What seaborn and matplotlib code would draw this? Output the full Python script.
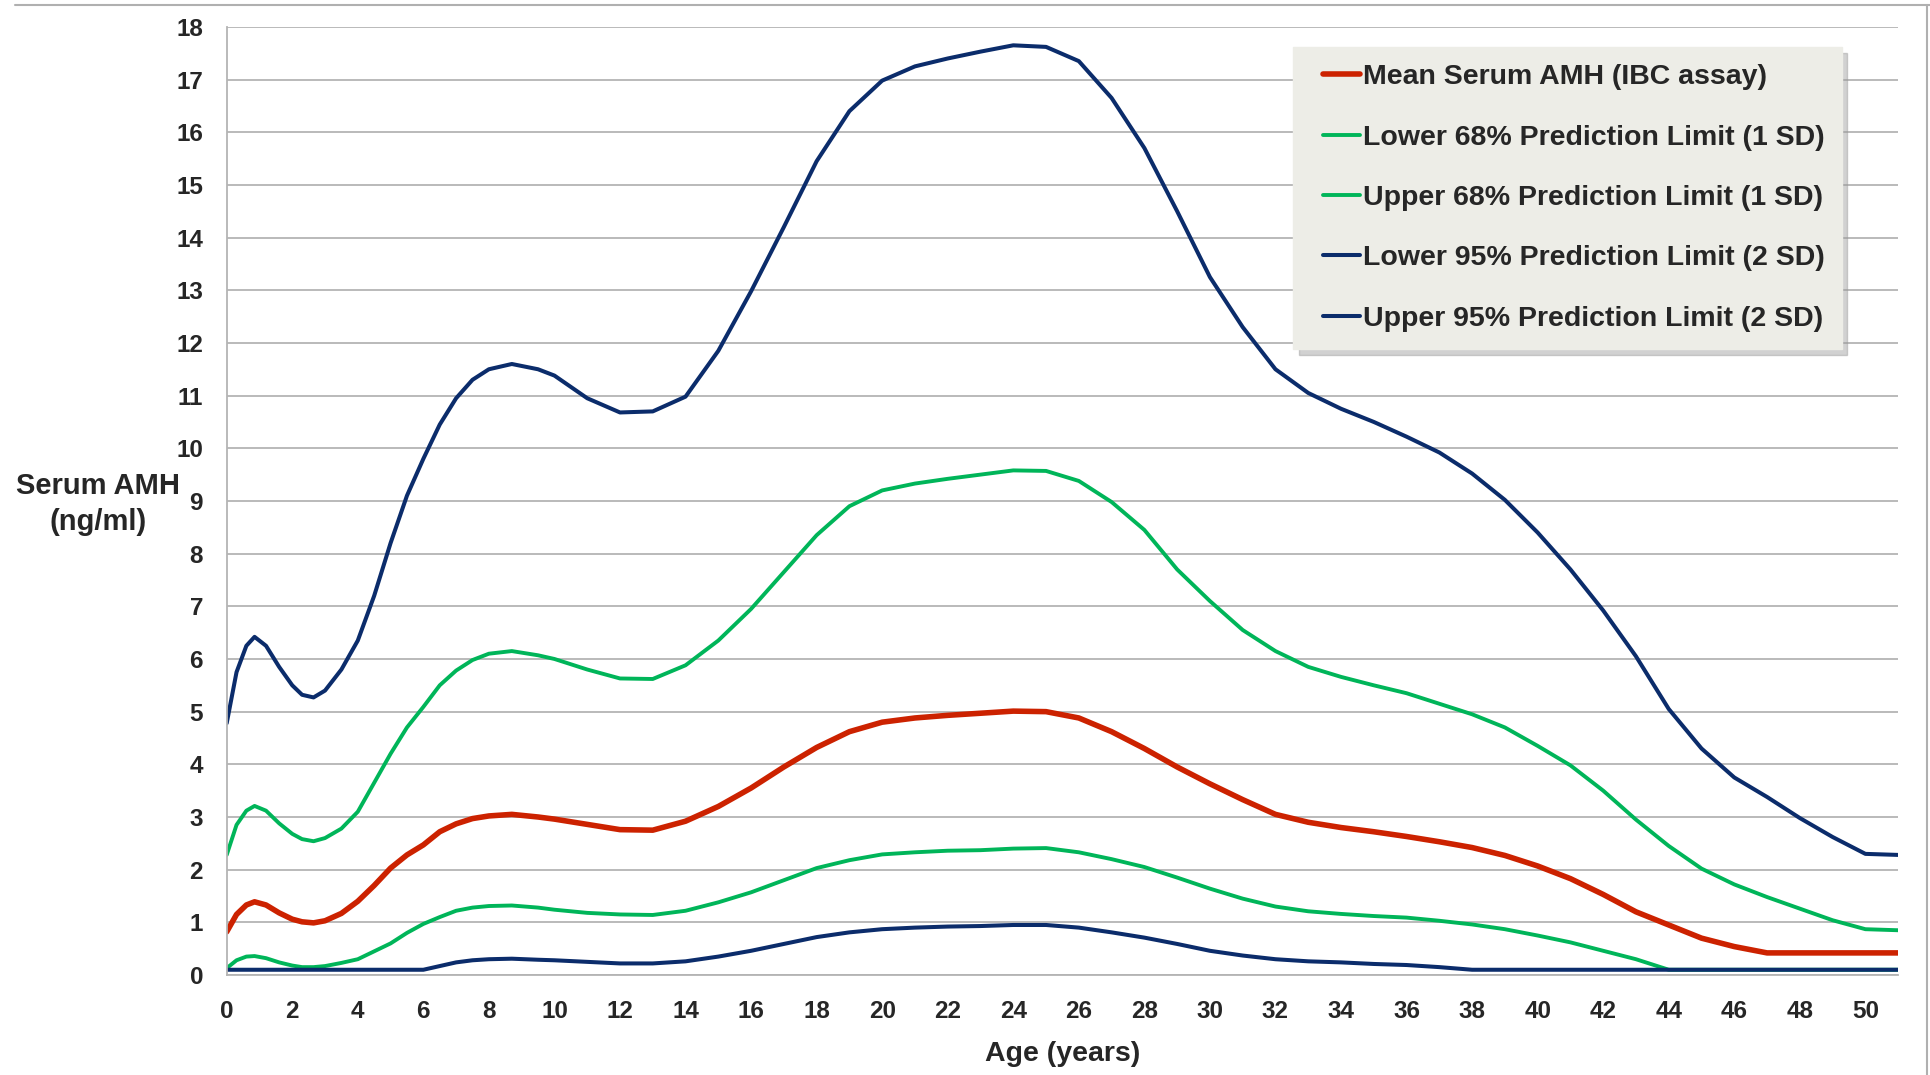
import numpy as np
import pandas as pd
import matplotlib
matplotlib.use("Agg")
import matplotlib.pyplot as plt
from matplotlib.lines import Line2D
from matplotlib.legend_handler import HandlerLine2D
import seaborn as sns

# ages (years) - denser at the start where the curves wiggle
ages = [0, 0.3, 0.6, 0.85, 1.2, 1.6, 2.0, 2.3, 2.65, 3.0, 3.5, 4.0, 4.5, 5.0, 5.5,
        6.0, 6.5, 7.0, 7.5, 8.0, 8.7, 9.5] + list(range(10, 52))

mean_amh = [0.82, 1.15, 1.33, 1.39, 1.33, 1.18, 1.06, 1.01, 0.99, 1.03, 1.17, 1.40, 1.70, 2.03, 2.28,
            2.47, 2.72, 2.87, 2.97, 3.02, 3.05, 3.00,
            2.96, 2.86, 2.76, 2.75, 2.92, 3.20, 3.55, 3.95, 4.32, 4.62,
            4.80, 4.88, 4.93, 4.97, 5.01, 5.00, 4.88, 4.62, 4.30, 3.95,
            3.63, 3.33, 3.05, 2.90, 2.80, 2.72, 2.63, 2.53, 2.42, 2.27,
            2.07, 1.83, 1.53, 1.20, 0.95, 0.70, 0.54, 0.42, 0.42, 0.42,
            0.42, 0.42]

lower_68 = [0.13, 0.28, 0.35, 0.36, 0.32, 0.24, 0.18, 0.15, 0.15, 0.17, 0.23, 0.30, 0.45, 0.60, 0.80,
            0.97, 1.10, 1.22, 1.28, 1.31, 1.32, 1.28,
            1.24, 1.18, 1.15, 1.14, 1.22, 1.38, 1.57, 1.80, 2.03, 2.18,
            2.29, 2.33, 2.36, 2.37, 2.40, 2.41, 2.33, 2.20, 2.05, 1.85,
            1.64, 1.45, 1.30, 1.21, 1.16, 1.12, 1.09, 1.03, 0.96, 0.87,
            0.75, 0.62, 0.46, 0.30, 0.10, 0.10, 0.10, 0.10, 0.10, 0.10,
            0.10, 0.10]

upper_68 = [2.28, 2.85, 3.12, 3.21, 3.12, 2.88, 2.68, 2.58, 2.54, 2.60, 2.78, 3.10, 3.65, 4.20, 4.70,
            5.09, 5.50, 5.78, 5.98, 6.10, 6.15, 6.07,
            6.00, 5.80, 5.63, 5.62, 5.88, 6.35, 6.95, 7.65, 8.35, 8.90,
            9.20, 9.33, 9.42, 9.50, 9.58, 9.57, 9.38, 8.98, 8.45, 7.70,
            7.10, 6.55, 6.15, 5.85, 5.66, 5.50, 5.35, 5.15, 4.95, 4.70,
            4.35, 3.98, 3.50, 2.95, 2.45, 2.02, 1.72, 1.48, 1.26, 1.04,
            0.87, 0.85]

lower_95 = [0.10, 0.10, 0.10, 0.10, 0.10, 0.10, 0.10, 0.10, 0.10, 0.10, 0.10, 0.10, 0.10, 0.10, 0.10,
            0.10, 0.17, 0.24, 0.28, 0.30, 0.31, 0.29,
            0.28, 0.25, 0.22, 0.22, 0.26, 0.35, 0.46, 0.59, 0.72, 0.81,
            0.87, 0.90, 0.92, 0.93, 0.95, 0.95, 0.90, 0.81, 0.71, 0.59,
            0.46, 0.37, 0.30, 0.26, 0.24, 0.21, 0.19, 0.15, 0.10, 0.10,
            0.10, 0.10, 0.10, 0.10, 0.10, 0.10, 0.10, 0.10, 0.10, 0.10,
            0.10, 0.10]

upper_95 = [4.78, 5.75, 6.25, 6.42, 6.25, 5.85, 5.50, 5.32, 5.27, 5.40, 5.80, 6.35, 7.20, 8.20, 9.10,
            9.80, 10.45, 10.95, 11.30, 11.50, 11.60, 11.50,
            11.38, 10.95, 10.68, 10.70, 10.98, 11.85, 12.98, 14.20, 15.45, 16.40,
            16.98, 17.25, 17.40, 17.53, 17.65, 17.62, 17.35, 16.65, 15.70, 14.50,
            13.25, 12.30, 11.50, 11.05, 10.75, 10.50, 10.22, 9.92, 9.52, 9.02,
            8.40, 7.70, 6.92, 6.05, 5.05, 4.30, 3.75, 3.38, 2.98, 2.62,
            2.30, 2.28]

series_labels = ["Mean Serum AMH (IBC assay)",
                 "Lower 68% Prediction Limit (1 SD)",
                 "Upper 68% Prediction Limit (1 SD)",
                 "Lower 95% Prediction Limit (2 SD)",
                 "Upper 95% Prediction Limit (2 SD)"]
series_values = [mean_amh, lower_68, upper_68, lower_95, upper_95]
series_colors = ["#CC2200", "#00B559", "#00B559", "#0B2C6B", "#0B2C6B"]
series_widths = [4.0, 2.8, 2.8, 2.9, 2.9]

x_ticks = list(range(0, 51, 2))
y_ticks = list(range(0, 19))

sns.set_style("white")
plt.rcParams['font.family'] = ['Liberation Sans', 'DejaVu Sans']
plt.rcParams['font.weight'] = 'bold'

fig = plt.figure(figsize=(19.31, 10.75), dpi=100)
ax = fig.add_axes([0.1174, 0.093, 0.8656, 0.882])

for lab, vals, col, lw in zip(series_labels, series_values, series_colors, series_widths):
    sns.lineplot(x=ages, y=vals, color=col, linewidth=lw, label=lab, ax=ax)

ax.set_xlim(0, 51)
ax.set_ylim(0, 18)
ax.set_xticks(x_ticks)
ax.set_yticks(y_ticks)
ax.tick_params(axis='x', labelsize=17.5, length=7, width=1.2, color='#B4B4B4', pad=11, direction='out')
ax.tick_params(axis='y', labelsize=17.5, length=7, width=1.2, color='#B4B4B4', pad=10, direction='out')
for t in ax.get_xticklabels() + ax.get_yticklabels():
    t.set_fontweight('bold')

ax.grid(axis='y', color='#B4B4B4', linewidth=1.3)
ax.set_axisbelow(True)
for side in ['top', 'right']:
    ax.spines[side].set_visible(False)
for side in ['left', 'bottom']:
    ax.spines[side].set_color('#B4B4B4')
    ax.spines[side].set_linewidth(1.3)

ax.set_xlabel('Age (years)', fontsize=20.5, fontweight='bold')
ax.xaxis.set_label_coords(0.5, -0.070)
ax.set_ylabel('Serum AMH\n(ng/ml)', fontsize=21, fontweight='bold', rotation=0,
              ha='center', va='center', linespacing=1.35)
ax.yaxis.set_label_coords(-0.077, 0.497)

# legend: short handle with some left padding, grey box with soft shadow
leg = ax.legend(loc='upper left', bbox_to_anchor=(1293 / 1931, 1 - 47 / 1075),
                bbox_transform=fig.transFigure, borderaxespad=0,
                fontsize=20.5, handlelength=1.75, handletextpad=0.1,
                handler_map={Line2D: HandlerLine2D(xpad=0.45)},
                labelspacing=1.21, borderpad=0.6, frameon=True, fancybox=False,
                framealpha=1, facecolor='#EDEDE7', edgecolor='#EDEDE7',
                shadow={'ox': 4, 'oy': -4, 'color': '#9A9A9A', 'alpha': 0.45})
for t in leg.get_texts():
    t.set_fontweight('bold')

# slide border lines
fig.add_artist(Line2D([0.008, 1.0], [0.9956, 0.9956], color='#B0B0B0', linewidth=1.5,
                      transform=fig.transFigure))
fig.add_artist(Line2D([0.998, 0.998], [0.0, 0.9956], color='#B0B0B0', linewidth=1.5,
                      transform=fig.transFigure))

fig.savefig('out.png', dpi=100)
